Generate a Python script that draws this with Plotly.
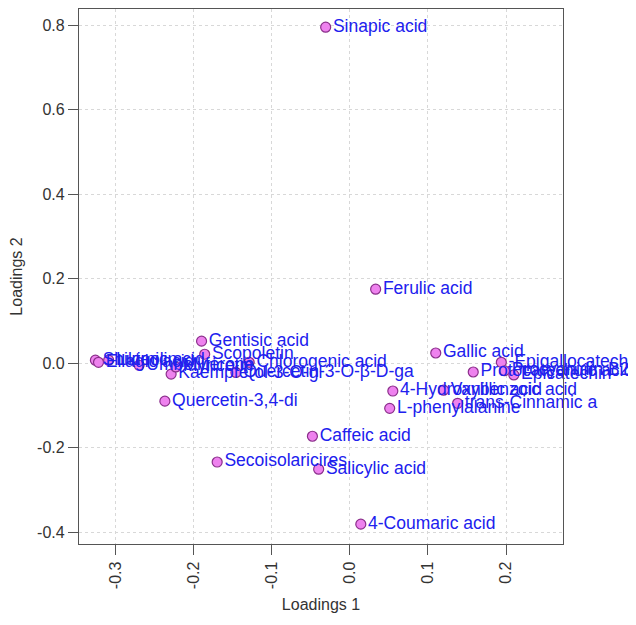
import plotly.graph_objects as go

names = [
    "Sinapic acid", "Ferulic acid", "Gentisic acid", "Scopoletin", "Gallic acid",
    "Caffeic acid", "Secoisolaricires", "Salicylic acid", "4-Coumaric acid",
    "Quercetin-3,4-di", "Kaempferol-3-O-gl", "L-phenylalanine", "4-Hydroxybenzoic acid",
    "trans-Cinnamic a", "Vanillic acid", "Protocatechuic acid", "-Epigallocatech",
    "Procyanidin B2", "Epicatechin",
    "Shikimic acid", "Ellagic acid", "Luteolin", "Umbelliferone", "Myricetin",
    "Quercetin-3-O-β-D-ga", "Chlorogenic acid",
]
loadings1 = [
    -0.031, 0.033, -0.190, -0.186, 0.110,
    -0.048, -0.170, -0.040, 0.014,
    -0.237, -0.229, 0.051, 0.055,
    0.138, 0.120, 0.158, 0.194,
    0.198, 0.210,
    -0.326, -0.322, -0.309, -0.270, -0.223,
    -0.146, -0.129,
]
loadings2 = [
    0.795, 0.175, 0.052, 0.021, 0.024,
    -0.173, -0.234, -0.251, -0.381,
    -0.090, -0.026, -0.107, -0.066,
    -0.095, -0.064, -0.021, 0.002,
    -0.018, -0.028,
    0.007, 0.002, 0.007, -0.005, -0.009,
    -0.022, 0.002,
]

x_ticks = [-0.3, -0.2, -0.1, 0.0, 0.1, 0.2]
x_tick_text = ["-0.3", "-0.2", "-0.1", "0.0", "0.1", "0.2"]
y_ticks = [-0.4, -0.2, 0.0, 0.2, 0.4, 0.6, 0.8]
y_tick_text = ["-0.4", "-0.2", "0.0", "0.2", "0.4", "0.6", "0.8"]

font_family = "Liberation Sans, Arial, sans-serif"

fig = go.Figure(go.Scatter(
    x=loadings1, y=loadings2, text=names,
    mode="markers+text", textposition="middle right",
    marker=dict(size=10, color="#EE82EE", line=dict(color="#8B2F8B", width=1.2)),
    textfont=dict(family=font_family, size=17.5, color="#2020ee"),
    cliponaxis=False, hoverinfo="text",
))

axis_common = dict(
    showline=True, mirror=True, linecolor="#555555", linewidth=1.3,
    ticks="outside", ticklen=10, tickcolor="#555555", tickwidth=1.3,
    showgrid=True, gridcolor="#d8d8d8", griddash="dot", gridwidth=1,
    zeroline=False,
    tickfont=dict(family=font_family, size=16, color="#333333"),
)

fig.update_xaxes(
    range=[-0.347, 0.273], tickvals=x_ticks, ticktext=x_tick_text, tickangle=-90,
    title=dict(text="Loadings 1", font=dict(family=font_family, size=16, color="#333333"), standoff=10),
    **axis_common,
)
fig.update_yaxes(
    range=[-0.428, 0.838], tickvals=y_ticks, ticktext=y_tick_text,
    title=dict(text="Loadings 2", font=dict(family=font_family, size=16, color="#333333"), standoff=12),
    **axis_common,
)

# page body has an 8px default margin; compensate so the plot box lands where the reference has it
fig.update_layout(
    width=628, height=617,
    margin=dict(l=71, r=73, t=1, b=81),
    plot_bgcolor="white", paper_bgcolor="white",
    showlegend=False,
)

fig.write_html("out.html")
